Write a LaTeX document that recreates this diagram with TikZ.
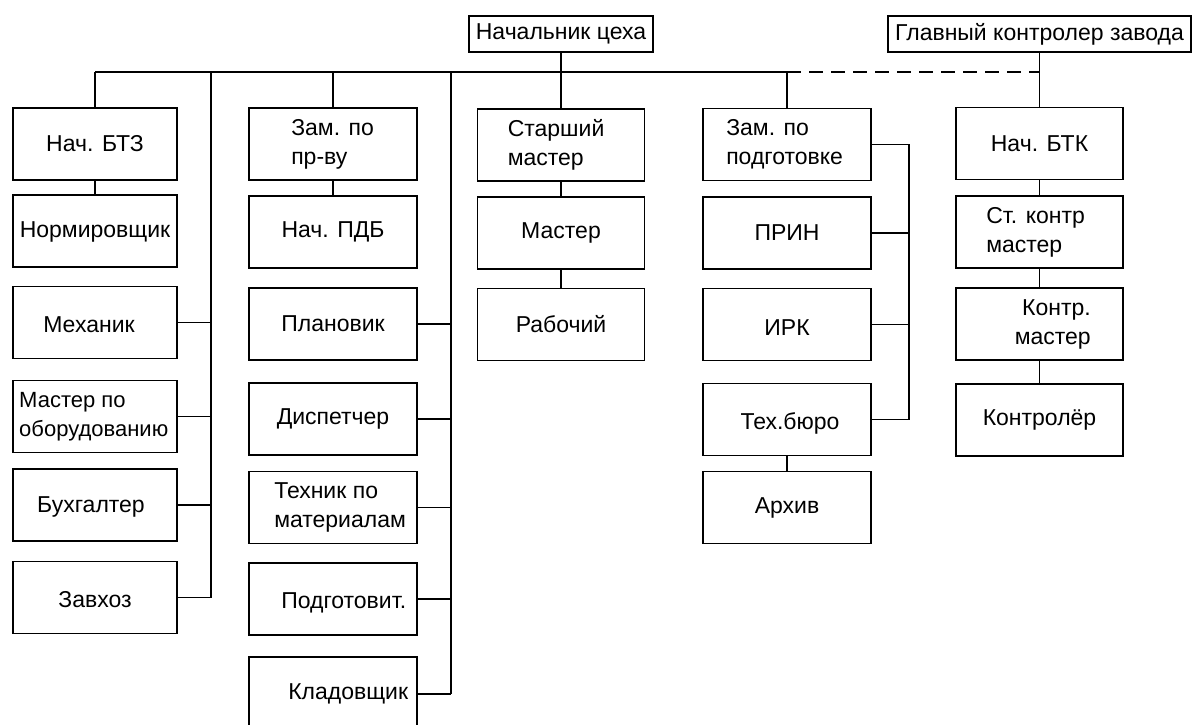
\documentclass[tikz,border=0pt]{standalone}
\usepackage{fontspec}
\setmainfont{Liberation Sans}
\begin{document}
\begin{tikzpicture}[x=1pt,y=-1pt,
  bx/.style={draw,line width=1.9pt,inner sep=0pt,minimum height=72pt},
  tx/.style={inner sep=0pt,font=\fontsize{23}{29}\selectfont},
  ln/.style={line width=1.9pt},
  dsh/.style={line width=1.9pt,dash pattern=on 14pt off 8pt}]
\useasboundingbox (0,0) rectangle (1201,724);
\fill[white] (0,0) rectangle (1201,724);

% top boxes
\node[bx,minimum width=184pt,minimum height=36pt] (nach) at (561,34) {};
\node[tx] (nacht) at (nach) {Начальник цеха};
\node[bx,minimum width=303pt,minimum height=36pt] (glav) at (1039.5,34) {};
\node[tx] (glavt) at (glav) {Главный контролер завода};

% column 1
\node[bx,minimum width=164pt] (btz)  at (95,144) {};
\node[bx,minimum width=164pt] (norm) at (95,231) {};
\node[bx,minimum width=164pt] (mech) at (95,322.5) {};
\node[bx,minimum width=164pt] (mob)  at (95,416.5) {};
\node[bx,minimum width=164pt] (buh)  at (95,505) {};
\node[bx,minimum width=164pt] (zav)  at (95,597.5) {};
\node[tx] (btzt)  at (btz) {Нач. БТЗ};
\node[tx] (normt) at ([yshift=-1pt]norm.center) {Нормировщик};
\node[tx] (mecht) at ([xshift=-6pt,yshift=-2pt]mech.center) {Механик};
\node[tx,anchor=west,align=left,font=\fontsize{22}{29}\selectfont] (mobt) at ([xshift=7pt]mob.west) {Мастер по\\оборудованию};
\node[tx] (buht)  at ([xshift=-4pt,yshift=-2pt]buh.center) {Бухгалтер};
\node[tx] (zavt)  at ([yshift=-2pt]zav.center) {Завхоз};

% column 2
\node[bx,minimum width=168pt] (zpr)  at (333,144) {};
\node[bx,minimum width=168pt] (pdb)  at (333,232) {};
\node[bx,minimum width=168pt] (plan) at (333,324) {};
\node[bx,minimum width=168pt] (disp) at (333,419) {};
\node[bx,minimum width=168pt] (tehm) at (333,507.5) {};
\node[bx,minimum width=168pt] (podg) at (333,599) {};
\node[bx,minimum width=168pt,minimum height=74pt] (klad) at (333,694) {};
\node[tx,anchor=west,align=left] (zprt) at ([xshift=43pt]zpr.west) {Зам. по\\пр-ву};
\node[tx] (pdbt)  at (pdb) {Нач. ПДБ};
\node[tx] (plant) at (plan) {Плановик};
\node[tx] (dispt) at (disp) {Диспетчер};
\node[tx,anchor=west,align=left] (tehmt) at ([xshift=26pt]tehm.west) {Техник по\\материалам};
\node[tx,anchor=west] (podgt) at ([xshift=33pt,yshift=-4pt]podg.west) {Подготовит.};
\node[tx,anchor=west] (kladt) at ([xshift=40pt]klad.west) {Кладовщик};

% column 3
\node[bx,minimum width=167pt] (smast) at (561,145) {};
\node[bx,minimum width=167pt] (mast)  at (561,233) {};
\node[bx,minimum width=167pt] (rab)   at (561,324.5) {};
\node[tx,anchor=west,align=left] (smastt) at ([xshift=31pt]smast.west) {Старший\\мастер};
\node[tx] (mastt) at (mast) {Мастер};
\node[tx] (rabt)  at (rab) {Рабочий};

% column 4
\node[bx,minimum width=168pt] (zpod) at (787,144.5) {};
\node[bx,minimum width=168pt] (prin) at (787,233) {};
\node[bx,minimum width=168pt] (irk)  at (787,324.5) {};
\node[bx,minimum width=168pt] (teh)  at (787,419.5) {};
\node[bx,minimum width=168pt] (arh)  at (787,507.5) {};
\node[tx,anchor=west,align=left] (zpodt) at ([xshift=24pt]zpod.west) {Зам. по\\подготовке};
\node[tx] (print) at (prin) {ПРИН};
\node[tx] (irkt)  at ([yshift=-3pt]irk.center) {ИРК};
\node[tx] (teht)  at ([xshift=3pt,yshift=-4pt]teh.center) {Тех.бюро};
\node[tx] (arht)  at (arh) {Архив};

% column 5
\node[bx,minimum width=167pt] (btk)   at (1039.5,143.5) {};
\node[bx,minimum width=167pt] (stk)   at (1039.5,232) {};
\node[bx,minimum width=167pt] (km)    at (1039.5,324) {};
\node[bx,minimum width=167pt] (kontr) at (1039.5,420) {};
\node[tx] (btkt) at (btk) {Нач. БТК};
\node[tx,anchor=west,align=left] (stkt) at ([xshift=31pt]stk.west) {Ст. контр\\мастер};
\node[tx,anchor=east,align=right] (kmt) at ([xshift=-33pt]km.east) {Контр.\\мастер};
\node[tx] (kontrt) at (kontr) {Контролёр};

% main bus
\coordinate (hub) at (561,72);
\coordinate (v1) at (211,72);
\coordinate (v2) at (451,72);
\coordinate (v4) at (909,144.5);
\draw[ln] (btz.north |- hub) -- (zpod.north |- hub);
\draw[dsh] (zpod.north |- hub) -- (btk.north |- hub);
\draw[ln] (btz.north |- hub) -- (btz.north);
\draw[ln] (zpr.north |- hub) -- (zpr.north);
\draw[ln] (zpod.north |- hub) -- (zpod.north);
\draw[ln] (nach.south) -- (smast.north);
\draw[ln] (glav.south) -- (btk.north);

% column 1 links
\draw[ln] (btz.south) -- (norm.north);
\draw[ln] (v1) -- (v1 |- zav.east);
\foreach \n in {mech,mob,buh,zav} \draw[ln] (\n.east) -- (\n.east -| v1);

% column 2 links
\draw[ln] (zpr.south) -- (pdb.north);
\draw[ln] (v2) -- (v2 |- klad.east);
\foreach \n in {plan,disp,tehm,podg,klad} \draw[ln] (\n.east) -- (\n.east -| v2);

% column 3 links
\draw[ln] (smast.south) -- (mast.north);
\draw[ln] (mast.south) -- (rab.north);

% column 4 links
\draw[ln] (zpod.east) -- (v4) -- (v4 |- teh.east) -- (teh.east);
\foreach \n in {prin,irk} \draw[ln] (\n.east) -- (\n.east -| v4);
\draw[ln] (teh.south) -- (arh.north);

% column 5 links
\draw[ln] (btk.south) -- (stk.north);
\draw[ln] (stk.south) -- (km.north);
\draw[ln] (km.south) -- (kontr.north);
\end{tikzpicture}
\end{document}
